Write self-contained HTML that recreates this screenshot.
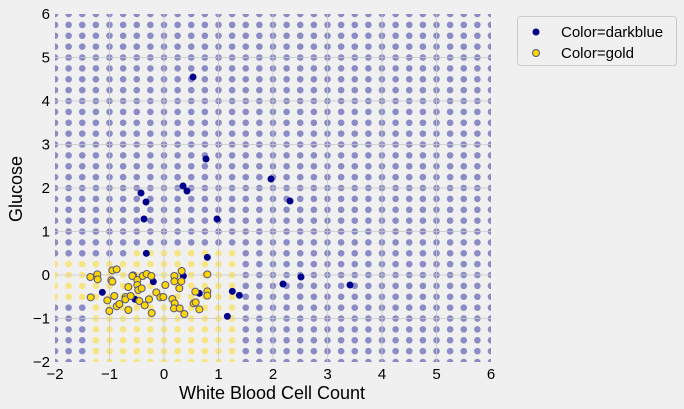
<!DOCTYPE html>
<html><head><meta charset="utf-8"><style>
body{margin:0;background:#f0f0f0;}
svg{display:block;font-family:"Liberation Sans","DejaVu Sans",sans-serif;}
</style></head><body>
<svg width="684" height="409" viewBox="0 0 684 409">
<defs>
<clipPath id="cp"><rect x="55" y="14" width="436" height="348"/></clipPath>
<clipPath id="yc"><path d="M129.9,247.8 H238.9 V367.4 H89.1 V302.2 H48.2 V258.7 H129.9 Z"/></clipPath>
</defs>
<rect width="684" height="409" fill="#f0f0f0"/>
<g clip-path="url(#cp)">
<g stroke="#00008b" stroke-opacity="0.42" stroke-width="6.6" stroke-linecap="round" stroke-dasharray="0 13.625">
<line x1="55" x2="492" y1="14" y2="14"/><line x1="55" x2="492" y1="24.875" y2="24.875"/>
<line x1="55" x2="492" y1="35.75" y2="35.75"/><line x1="55" x2="492" y1="46.625" y2="46.625"/>
<line x1="55" x2="492" y1="57.5" y2="57.5"/><line x1="55" x2="492" y1="68.375" y2="68.375"/>
<line x1="55" x2="492" y1="79.25" y2="79.25"/><line x1="55" x2="492" y1="90.125" y2="90.125"/>
<line x1="55" x2="492" y1="101" y2="101"/><line x1="55" x2="492" y1="111.875" y2="111.875"/>
<line x1="55" x2="492" y1="122.75" y2="122.75"/><line x1="55" x2="492" y1="133.625" y2="133.625"/>
<line x1="55" x2="492" y1="144.5" y2="144.5"/><line x1="55" x2="492" y1="155.375" y2="155.375"/>
<line x1="55" x2="492" y1="166.25" y2="166.25"/><line x1="55" x2="492" y1="177.125" y2="177.125"/>
<line x1="55" x2="492" y1="188" y2="188"/><line x1="55" x2="492" y1="198.875" y2="198.875"/>
<line x1="55" x2="492" y1="209.75" y2="209.75"/><line x1="55" x2="492" y1="220.625" y2="220.625"/>
<line x1="55" x2="492" y1="231.5" y2="231.5"/><line x1="55" x2="492" y1="242.375" y2="242.375"/>
<line x1="55" x2="492" y1="253.25" y2="253.25"/><line x1="55" x2="492" y1="264.125" y2="264.125"/>
<line x1="55" x2="492" y1="275" y2="275"/><line x1="55" x2="492" y1="285.875" y2="285.875"/>
<line x1="55" x2="492" y1="296.75" y2="296.75"/><line x1="55" x2="492" y1="307.625" y2="307.625"/>
<line x1="55" x2="492" y1="318.5" y2="318.5"/><line x1="55" x2="492" y1="329.375" y2="329.375"/>
<line x1="55" x2="492" y1="340.25" y2="340.25"/><line x1="55" x2="492" y1="351.125" y2="351.125"/>
<line x1="55" x2="492" y1="362" y2="362"/>
</g>
<path d="M129.9,247.8 H238.9 V367.4 H89.1 V302.2 H48.2 V258.7 H129.9 Z" fill="#f0f0f0"/>
<g clip-path="url(#yc)" stroke="#ffd700" stroke-opacity="0.45" stroke-width="6.6" stroke-linecap="round" stroke-dasharray="0 13.625">
<line x1="55" x2="492" y1="253.25" y2="253.25"/><line x1="55" x2="492" y1="264.125" y2="264.125"/>
<line x1="55" x2="492" y1="275" y2="275"/><line x1="55" x2="492" y1="285.875" y2="285.875"/>
<line x1="55" x2="492" y1="296.75" y2="296.75"/><line x1="55" x2="492" y1="307.625" y2="307.625"/>
<line x1="55" x2="492" y1="318.5" y2="318.5"/><line x1="55" x2="492" y1="329.375" y2="329.375"/>
<line x1="55" x2="492" y1="340.25" y2="340.25"/><line x1="55" x2="492" y1="351.125" y2="351.125"/>
<line x1="55" x2="492" y1="362" y2="362"/>
</g>
<g stroke="#cbcbcb" stroke-width="1" opacity="0.8">
<line x1="109.5" y1="14" x2="109.5" y2="362"/><line x1="164" y1="14" x2="164" y2="362"/>
<line x1="218.5" y1="14" x2="218.5" y2="362"/><line x1="273" y1="14" x2="273" y2="362"/>
<line x1="327.5" y1="14" x2="327.5" y2="362"/><line x1="382" y1="14" x2="382" y2="362"/>
<line x1="436.5" y1="14" x2="436.5" y2="362"/>
<line x1="55" y1="57.5" x2="491" y2="57.5"/><line x1="55" y1="101" x2="491" y2="101"/>
<line x1="55" y1="144.5" x2="491" y2="144.5"/><line x1="55" y1="188" x2="491" y2="188"/>
<line x1="55" y1="231.5" x2="491" y2="231.5"/><line x1="55" y1="275" x2="491" y2="275"/>
<line x1="55" y1="318.5" x2="491" y2="318.5"/>
</g>
<g fill="#00008b">
<circle cx="193" cy="77" r="3.5"/><circle cx="206" cy="159" r="3.5"/><circle cx="183" cy="186" r="3.5"/>
<circle cx="187" cy="191" r="3.5"/><circle cx="141" cy="193" r="3.5"/><circle cx="146" cy="202" r="3.5"/>
<circle cx="144" cy="219" r="3.5"/><circle cx="217" cy="219" r="3.5"/><circle cx="271" cy="179" r="3.5"/>
<circle cx="290" cy="201" r="3.5"/><circle cx="301" cy="277" r="3.5"/><circle cx="350" cy="285" r="3.5"/>
<circle cx="283" cy="284" r="3.5"/>
</g>
<g transform="translate(50,240) scale(0.3333333)">
<g fill="#00008b">
<circle cx="289" cy="40" r="10.5"/><circle cx="472" cy="52" r="10.5"/><circle cx="400" cy="108" r="10.5"/>
<circle cx="310" cy="125" r="10.5"/><circle cx="157" cy="157" r="10.5"/><circle cx="255" cy="178" r="10.5"/>
<circle cx="448" cy="160" r="10.5"/><circle cx="547" cy="154" r="10.5"/><circle cx="568" cy="166" r="10.5"/>
<circle cx="532" cy="229" r="10.5"/>
</g>
<g fill="#ffd700" stroke="#555580" stroke-width="3">
<circle cx="121" cy="111" r="10.5"/><circle cx="142" cy="103" r="10.5"/><circle cx="143" cy="118" r="10.5"/>
<circle cx="187" cy="91" r="10.5"/><circle cx="200" cy="88" r="10.5"/><circle cx="184" cy="121" r="10.5"/>
<circle cx="187" cy="125" r="10.5"/><circle cx="122" cy="172" r="10.5"/><circle cx="172" cy="181" r="10.5"/>
<circle cx="178" cy="213" r="10.5"/><circle cx="193" cy="168" r="10.5"/><circle cx="200" cy="199" r="10.5"/>
<circle cx="208" cy="192" r="10.5"/><circle cx="227" cy="171" r="10.5"/><circle cx="226" cy="178" r="10.5"/>
<circle cx="235" cy="141" r="10.5"/><circle cx="235" cy="210" r="10.5"/><circle cx="242" cy="168" r="10.5"/>
<circle cx="249" cy="106" r="10.5"/><circle cx="247" cy="108" r="10.5"/><circle cx="262" cy="120" r="10.5"/>
<circle cx="262" cy="135" r="10.5"/><circle cx="265" cy="150" r="10.5"/><circle cx="275" cy="145" r="10.5"/>
<circle cx="278" cy="108" r="10.5"/><circle cx="268" cy="183" r="10.5"/><circle cx="284" cy="196" r="10.5"/>
<circle cx="290" cy="102" r="10.5"/><circle cx="297" cy="178" r="10.5"/><circle cx="304" cy="108" r="10.5"/>
<circle cx="305" cy="219" r="10.5"/><circle cx="319" cy="157" r="10.5"/><circle cx="331" cy="172" r="10.5"/>
<circle cx="340" cy="171" r="10.5"/><circle cx="346" cy="135" r="10.5"/><circle cx="367" cy="177" r="10.5"/>
<circle cx="373" cy="108" r="10.5"/><circle cx="373" cy="124" r="10.5"/><circle cx="374" cy="190" r="10.5"/>
<circle cx="372" cy="205" r="10.5"/><circle cx="389" cy="205" r="10.5"/><circle cx="388" cy="145" r="10.5"/>
<circle cx="395" cy="93" r="10.5"/><circle cx="394" cy="124" r="10.5"/><circle cx="403" cy="222" r="10.5"/>
<circle cx="431" cy="190" r="10.5"/><circle cx="437" cy="187" r="10.5"/><circle cx="436" cy="155" r="10.5"/>
<circle cx="448" cy="208" r="10.5"/><circle cx="472" cy="103" r="10.5"/><circle cx="472" cy="154" r="10.5"/>
<circle cx="472" cy="167" r="10.5"/>
</g>
</g>
</g>
<g font-size="15" fill="#000" text-anchor="middle">
<text x="55" y="379">−2</text><text x="109.5" y="379">−1</text><text x="164" y="379">0</text>
<text x="218.5" y="379">1</text><text x="273" y="379">2</text><text x="327.5" y="379">3</text>
<text x="382" y="379">4</text><text x="436.5" y="379">5</text><text x="491" y="379">6</text>
</g>
<g font-size="15" fill="#000" text-anchor="end">
<text x="50" y="19">6</text><text x="50" y="62.5">5</text><text x="50" y="106">4</text>
<text x="50" y="149.5">3</text><text x="50" y="193">2</text><text x="50" y="236.5">1</text>
<text x="50" y="280">0</text><text x="50" y="323.5">−1</text><text x="50" y="367">−2</text>
</g>
<text x="272" y="399" font-size="18" text-anchor="middle">White Blood Cell Count</text>
<text transform="translate(22,189) rotate(-90)" font-size="18" text-anchor="middle">Glucose</text>
<rect x="517.5" y="16.5" width="159" height="49" rx="3" fill="#f0f0f0" stroke="#cccccc"/>
<circle cx="536" cy="32" r="3.5" fill="#00008b"/>
<text x="561" y="37" font-size="15">Color=darkblue</text>
<circle cx="536" cy="53" r="3.5" fill="#ffd700" stroke="#555580" stroke-width="1"/>
<text x="561" y="58" font-size="15">Color=gold</text>
</svg>
</body></html>
